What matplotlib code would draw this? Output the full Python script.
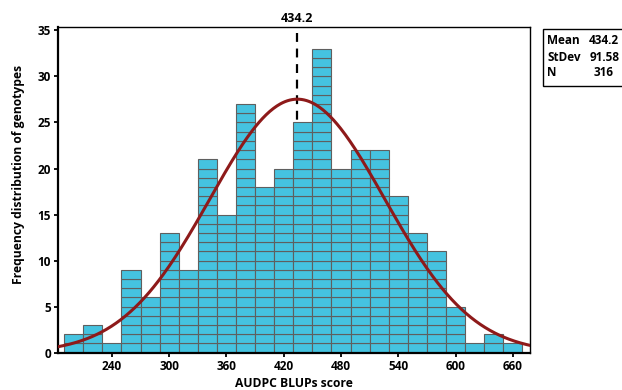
import numpy as np
import matplotlib
matplotlib.use("Agg")
import matplotlib.pyplot as plt
from matplotlib.patches import Rectangle

plt.rcParams['font.family'] = ['Open Sans', 'DejaVu Sans']
plt.rcParams['font.weight'] = 'bold'

# histogram data (bin width 20)
bin_left = [190, 210, 230, 250, 270, 290, 310, 330, 350, 370, 390, 410,
            430, 450, 470, 490, 510, 530, 550, 570, 590, 610, 630, 650]
counts = [2, 3, 1, 9, 6, 13, 9, 21, 15, 27, 18, 20,
          25, 33, 20, 22, 22, 17, 13, 11, 5, 1, 2, 1]
bin_width = 20
mean = 434.2
stdev = 91.58
n_obs = 316
x_ticks = [240, 300, 360, 420, 480, 540, 600, 660]
y_ticks = [0, 5, 10, 15, 20, 25, 30, 35]
stat_names = ['Mean', 'StDev', 'N']
stat_values = ['434.2', '91.58', '316']

W, H = 622, 390
fig = plt.figure(figsize=(W / 100, H / 100), dpi=100)
ax = fig.add_axes([58 / W, 1 - 352.7 / H, 472 / W, 326 / H])

# stacked unit cells for each bar
xs, bottoms = [], []
for left, c in zip(bin_left, counts):
    for k in range(c):
        xs.append(left)
        bottoms.append(k)
ax.bar(xs, [1] * len(xs), bottom=bottoms, width=bin_width, align='edge',
       color='#45c3e0', edgecolor='#5f5f5f', linewidth=0.8, zorder=2)

# mean line
ax.axvline(mean, color='black', linestyle=(0, (4, 3)), linewidth=1.6, zorder=1)

# fitted normal curve
xlo, xhi = 183.5, 678
xc = np.linspace(xlo, xhi, 400)
yc = n_obs * bin_width / (stdev * np.sqrt(2 * np.pi)) * np.exp(-0.5 * ((xc - mean) / stdev) ** 2)
ax.plot(xc, yc, color='#8e1a1a', linewidth=2.2, zorder=3)

ax.set_xlim(xlo, xhi)
ax.set_ylim(0, 35.4)
ax.set_xticks(x_ticks)
ax.set_yticks(y_ticks)
ax.tick_params(direction='out', length=3, width=1.3, labelsize=8.5, pad=2)
for s in ['left', 'bottom']:
    ax.spines[s].set_linewidth(1.6)
for s in ['top', 'right']:
    ax.spines[s].set_linewidth(1.0)

ax.set_xlabel('AUDPC BLUPs score', fontsize=8.7, fontweight='bold', labelpad=3)
ax.set_ylabel('Frequency distribution of genotypes', fontsize=8.7, fontweight='bold')
ax.yaxis.set_label_coords(-0.07, 0.548)

ax.text(mean, 1.024, f'{mean}', transform=ax.get_xaxis_transform(),
        ha='center', va='center', fontsize=9, fontweight='bold')

# stats box (runs past the right edge as in the source figure)
fig.add_artist(Rectangle((543 / W, 1 - 86 / H), 120 / W, 57 / H, transform=fig.transFigure,
                         facecolor='white', edgecolor='black', linewidth=1, clip_on=False))
row_y = [40.5, 57.5, 72.5]
val_x = [589, 590, 594]
for name, val, ry, vx in zip(stat_names, stat_values, row_y, val_x):
    fig.text(547 / W, 1 - ry / H, name, ha='left', va='center', fontsize=8.5, fontweight='bold')
    fig.text(vx / W, 1 - ry / H, val, ha='left', va='center', fontsize=8.5, fontweight='bold')

fig.savefig('out.png', dpi=100)
